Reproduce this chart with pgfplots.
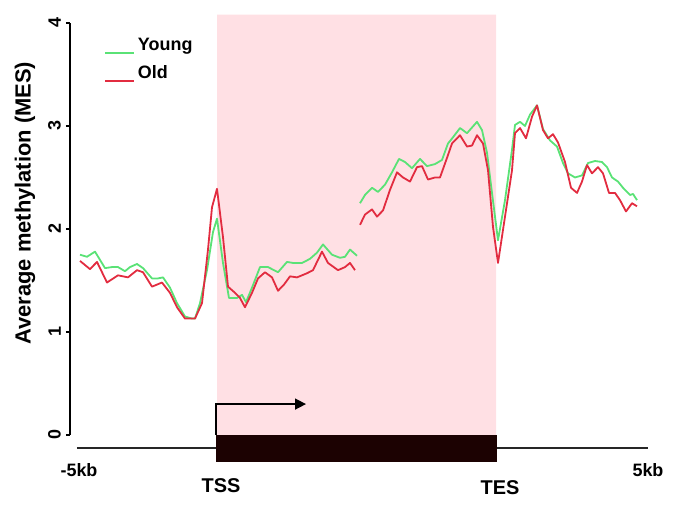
\documentclass[border=0pt]{standalone}
\usepackage{fontspec}
\setmainfont{Liberation Sans}
\usepackage{pgfplots}
\usepackage{pgfplotstable}
\pgfplotsset{compat=1.18}
\usetikzlibrary{arrows.meta}

\definecolor{young}{RGB}{90,226,118}
\definecolor{old}{RGB}{226,44,64}
\definecolor{genebody}{RGB}{255,224,228}
\definecolor{exon}{RGB}{28,2,2}

% position along the metagene (-5kb .. TSS .. TES .. 5kb), MES
\pgfplotstableread{
x y
80 1.75
87 1.73
95 1.78
105 1.62
112 1.63
118 1.63
125 1.59
130 1.63
137 1.66
143 1.62
152 1.52
158 1.52
163 1.53
170 1.43
177 1.28
185 1.15
192 1.13
195 1.13
200 1.28
207 1.60
213 1.97
217 2.10
223 1.67
229 1.33
237 1.33
242 1.36
246 1.29
252 1.43
260 1.63
268 1.63
278 1.58
287 1.68
293 1.67
302 1.67
310 1.71
317 1.77
323 1.85
332 1.75
340 1.72
345 1.73
350 1.80
357 1.74
358 nan
360 2.25
365 2.33
372 2.40
378 2.36
385 2.43
392 2.55
399 2.68
405 2.65
412 2.59
420 2.68
427 2.61
435 2.63
442 2.67
448 2.83
453 2.89
460 2.98
467 2.93
477 3.04
482 2.96
487 2.74
492 2.35
498 1.89
505 2.28
512 2.77
515 3.01
520 3.04
525 3.00
530 3.11
537 3.20
543 2.97
550 2.86
557 2.80
563 2.64
568 2.54
575 2.50
582 2.52
588 2.64
595 2.66
602 2.65
607 2.60
612 2.50
618 2.46
623 2.40
630 2.33
633 2.34
637 2.28
}\youngtab

\pgfplotstableread{
x y
80 1.69
90 1.61
97 1.68
107 1.48
118 1.55
128 1.53
137 1.60
143 1.58
152 1.44
162 1.48
170 1.38
177 1.24
185 1.13
195 1.13
202 1.28
208 1.80
212 2.21
217 2.39
223 1.92
228 1.44
235 1.38
240 1.33
245 1.24
252 1.38
258 1.52
265 1.58
272 1.53
278 1.40
284 1.46
290 1.54
297 1.53
307 1.57
313 1.60
322 1.78
328 1.67
338 1.60
345 1.63
350 1.67
355 1.60
358 nan
360 2.04
365 2.14
372 2.19
377 2.12
383 2.18
390 2.38
397 2.55
403 2.50
410 2.46
417 2.60
422 2.61
428 2.48
435 2.50
440 2.50
447 2.69
452 2.83
460 2.91
467 2.80
472 2.81
477 2.91
483 2.83
488 2.57
493 2.02
498 1.67
505 2.12
512 2.57
515 2.93
520 2.98
526 2.88
532 3.09
537 3.20
543 2.96
548 2.88
553 2.92
558 2.84
565 2.65
571 2.40
577 2.35
582 2.46
587 2.62
592 2.54
598 2.60
603 2.54
609 2.35
615 2.35
620 2.28
626 2.17
632 2.25
637 2.22
}\oldtab

\begin{document}
\begin{tikzpicture}
\begin{axis}[
  scale only axis,
  width=590bp, height=412bp,
  xmin=70, xmax=660,
  ymin=0, ymax=4,
  clip=false,
  axis y line=left,
  axis x line=none,
  y axis line style={-, line width=1.6bp},
  ytick={0,1,2,3,4},
  major tick length=4bp,
  tick align=outside,
  tick style={line width=1.4bp, black},
  /pgf/number format/assume math mode=true,
  yticklabel style={rotate=90, anchor=south, inner sep=0bp, yshift=5bp,
    font=\fontsize{18}{20}\selectfont\bfseries},
  ylabel={Average methylation (MES)},
  ylabel style={at={(axis description cs:-0.0763,0.5625)}, rotate=0,
    anchor=center, font=\fontsize{22}{24}\selectfont\bfseries},
  unbounded coords=jump,
  legend style={draw=none, fill=none, at={(axis cs:104,3.87)},
    anchor=north west, inner sep=0pt, row sep=9bp,
    font=\fontsize{18}{20}\selectfont\bfseries,
    nodes={inner sep=1bp, text height=13bp, text depth=4bp}},
  legend cell align=left,
  legend image code/.code={\draw[#1] (0bp,-7bp) -- (29bp,-7bp);},
]
\addplot[fill=genebody, draw=none, forget plot]
  coordinates {(217,0) (217,4.08) (496,4.08) (496,0)} \closedcycle;
\addplot[fill=exon, draw=none, forget plot]
  coordinates {(216,0) (497,0) (497,-0.262) (216,-0.262)} -- cycle;

\addplot[young, line width=1.8bp, line join=round] table {\youngtab};
\addlegendentry{\hspace{2bp}Young}
\addplot[old, line width=1.8bp, line join=round] table {\oldtab};
\addlegendentry{\hspace{2bp}Old}

\draw[line width=1.4bp, black!85] (axis cs:77,-0.126) -- (axis cs:216,-0.126);
\draw[line width=1.4bp, black!85] (axis cs:497,-0.126) -- (axis cs:648,-0.126);
\draw[line width=1.5bp, black, -{Triangle[length=11bp,width=11bp]}]
  (axis cs:216,0) -- (axis cs:216,0.30) -- (axis cs:306,0.30);

\node[font=\fontsize{18}{20}\selectfont\bfseries] at (axis cs:79,-0.34) {-5kb};
\node[font=\fontsize{18}{20}\selectfont\bfseries] at (axis cs:648,-0.34) {5kb};
\node[font=\fontsize{20}{22}\selectfont\bfseries] at (axis cs:221,-0.49) {TSS};
\node[font=\fontsize{20}{22}\selectfont\bfseries] at (axis cs:500,-0.51) {TES};

\path (axis cs:0,4.223) rectangle (axis cs:679,-0.728);
\end{axis}
\end{tikzpicture}
\end{document}
